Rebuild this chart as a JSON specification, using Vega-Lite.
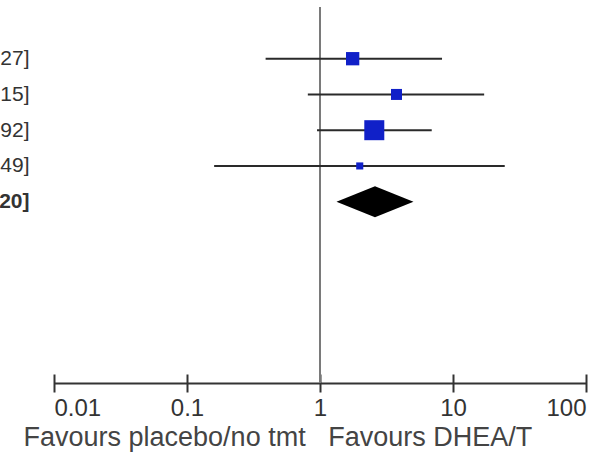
{
  "$schema": "https://vega.github.io/schema/vega-lite/v6.json",
  "width": 532,
  "height": 376,
  "autosize": {"type": "none"},
  "padding": {"left": 54, "top": 7, "right": 6, "bottom": 70},
  "background": "white",
  "config": {"view": {"stroke": null}, "font": "Liberation Sans"},
  "resolve": {"scale": {"x": "independent"}},
  "layer": [
    {
      "data": {"values": [{"ref": 1}]},
      "mark": {"type": "rule", "color": "#7a7a7a", "strokeWidth": 2},
      "encoding": {
        "x": {
          "field": "ref",
          "type": "quantitative",
          "scale": {"type": "log", "domain": [0.01, 100]},
          "axis": {
            "orient": "bottom",
            "offset": -9,
            "values": [0.01, 0.1, 1, 10, 100],
            "tickSize": 18,
            "tickWidth": 2,
            "tickColor": "#333333",
            "domain": false,
            "labels": false,
            "grid": false,
            "title": null
          }
        }
      }
    },
    {
      "data": {
        "values": [
          {"label": "1.76 [0.39, 8.27]", "est": 1.76, "lo": 0.39, "hi": 8.27, "weight": 23.6, "type": "study"},
          {"label": "3.76 [0.81, 17.15]", "est": 3.76, "lo": 0.81, "hi": 17.15, "weight": 16.2, "type": "study"},
          {"label": "2.56 [0.95, 6.92]", "est": 2.56, "lo": 0.95, "hi": 6.92, "weight": 53.5, "type": "study"},
          {"label": "1.99 [0.16, 24.49]", "est": 1.99, "lo": 0.16, "hi": 24.49, "weight": 6.7, "type": "study"},
          {"label": "2.59 [1.32, 5.20]", "est": 2.59, "lo": 1.32, "hi": 5.2, "weight": 100, "type": "pooled"}
        ]
      },
      "encoding": {
        "y": {
          "field": "label",
          "type": "nominal",
          "scale": {
            "type": "point",
            "domain": ["1.76 [0.39, 8.27]", "3.76 [0.81, 17.15]", "2.56 [0.95, 6.92]", "1.99 [0.16, 24.49]", "2.59 [1.32, 5.20]", " ", "  ", "   ", "    ", "     "],
            "padding": 0.7587,
            "align": 0.953
          },
          "axis": {
            "orient": "left",
            "domain": false,
            "ticks": false,
            "tickSize": 0,
            "grid": false,
            "title": null,
            "labelPadding": 25,
            "labelFontSize": 21,
            "labelColor": "#333333",
            "labelLimit": 0,
            "labelAlign": "right",
            "labelBaseline": "middle",
            "labelFontWeight": {"condition": {"test": "datum.value === '2.59 [1.32, 5.20]'", "value": "bold"}, "value": "normal"}
          }
        }
      },
      "layer": [
        {
          "transform": [{"filter": "datum.type === 'study'"}],
          "mark": {"type": "rule", "color": "#2a2a2a", "strokeWidth": 2},
          "encoding": {
            "x": {
              "field": "lo",
              "type": "quantitative",
              "scale": {"type": "log", "domain": [0.01, 100]},
              "axis": {
                "orient": "bottom",
                "values": [0.01, 0.1, 1, 10, 100],
                "format": "~g",
                "labelFlush": true,
                "ticks": false,
                "domain": true,
                "domainColor": "#333333",
                "domainWidth": 2,
                "grid": false,
                "labelFontSize": 24,
                "labelColor": "#333333",
                "labelPadding": 13,
                "title": "Favours placebo/no tmt\u00a0\u00a0\u00a0Favours DHEA/T",
                "titleFontSize": 27,
                "titleFontWeight": "normal",
                "titleColor": "#444444",
                "titleAlign": "left",
                "titleBaseline": "alphabetic",
                "titleX": -31,
                "titleY": 62,
                "titleLimit": 1000
              }
            },
            "x2": {"field": "hi"}
          }
        },
        {
          "transform": [{"filter": "datum.type === 'study'"}],
          "mark": {"type": "point", "shape": "square", "filled": true, "color": "#1020C8", "opacity": 1, "strokeWidth": 0},
          "encoding": {
            "x": {"field": "est", "type": "quantitative"},
            "size": {"field": "weight", "type": "quantitative", "scale": {"type": "linear", "domain": [0, 100], "range": [0, 748]}, "legend": null}
          }
        },
        {
          "transform": [{"filter": "datum.type === 'pooled'"}],
          "mark": {"type": "point", "shape": "M-1,0L0,-0.4026L1,0L0,0.4026Z", "filled": true, "color": "#000000", "opacity": 1, "size": 5929, "strokeWidth": 0},
          "encoding": {
            "x": {"field": "est", "type": "quantitative"}
          }
        }
      ]
    }
  ]
}
